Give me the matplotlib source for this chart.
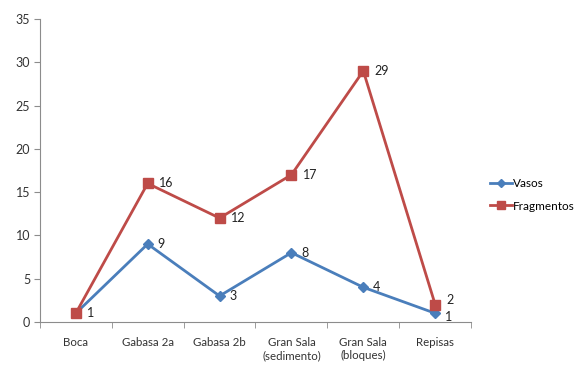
import numpy as np
import matplotlib as mpl
mpl.use("Agg")
import matplotlib.pyplot as plt

plt.rcParams["font.family"] = ["Lato", "DejaVu Sans"]

categories = ["Boca", "Gabasa 2a", "Gabasa 2b", "Gran Sala\n(sedimento)",
              "Gran Sala\n(bloques)", "Repisas"]
vasos = [1, 9, 3, 8, 4, 1]
fragmentos = [1, 16, 12, 17, 29, 2]
vasos_labelled = [False, True, True, True, True, True]

blue = "#4A7EBB"
red = "#BE4B48"
grey = "#8C8C8C"

fig = plt.figure(figsize=(5.86, 3.65), dpi=100)
ax = fig.add_axes([0.068, 0.118, 0.736, 0.830])

x = np.arange(len(categories))
ax.plot(x, vasos, "-D", color=blue, lw=2, ms=5, label="Vasos", zorder=3)
ax.plot(x, fragmentos, "-s", color=red, lw=2, ms=7, label="Fragmentos", zorder=3)

for xi, v, show in zip(x, vasos, vasos_labelled):
    if show:
        dy = -3 if xi == len(x) - 1 else 0
        ax.annotate(str(v), (xi, v), xytext=(7, dy), textcoords="offset points",
                    va="center", ha="left", fontsize=9, color="#222222")
for xi, v in zip(x, fragmentos):
    dy = 3 if xi == len(x) - 1 else 0
    ax.annotate(str(v), (xi, v), xytext=(8, dy), textcoords="offset points",
                va="center", ha="left", fontsize=9, color="#222222")

ax.set_xlim(-0.5, len(categories) - 0.5)
ax.set_ylim(0, 35)
ax.set_yticks(np.arange(0, 36, 5))
ax.set_xticks(x)
ax.set_xticklabels(categories, fontsize=8.3, color="#333333")
ax.set_xticks(np.arange(-0.5, len(categories), 1), minor=True)
ax.tick_params(axis="x", which="major", length=0, pad=11)
ax.tick_params(axis="x", which="minor", length=4, color=grey, direction="out")
ax.tick_params(axis="y", length=4, color=grey, labelsize=9, labelcolor="#333333", pad=3)

for side in ["top", "right"]:
    ax.spines[side].set_visible(False)
for side in ["left", "bottom"]:
    ax.spines[side].set_color(grey)
    ax.spines[side].set_linewidth(0.8)

ax.legend(loc="center left", bbox_to_anchor=(1.02, 0.42), frameon=False,
          fontsize=8.5, handlelength=1.8, handletextpad=0.1, labelspacing=1.0,
          markerscale=0.8)

fig.savefig("out.png", dpi=100)
